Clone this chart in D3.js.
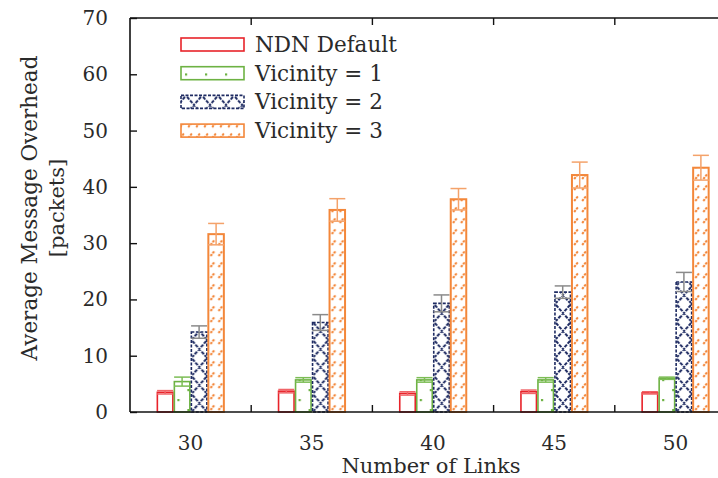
<!DOCTYPE html>
<meta charset="utf-8">
<style>
body { margin: 0; background: #fff; }
text { font-family: "DejaVu Serif", "Liberation Serif", serif; fill: #2a2a2a; }
</style>
<svg width="718" height="478"></svg>
<script src="https://d3js.org/d3.v7.min.js"></script>
<script>

var links = ["30", "35", "40", "45", "50"];
var series = ["NDN Default", "Vicinity = 1", "Vicinity = 2", "Vicinity = 3"];
var ndnDefault = [3.5, 3.7, 3.3, 3.6, 3.4];
var ndnDefaultErr = [0.3, 0.3, 0.3, 0.3, 0.2];
var vicinity1 = [5.4, 5.7, 5.7, 5.7, 6.0];
var vicinity1Err = [0.8, 0.4, 0.4, 0.4, 0.2];
var vicinity2 = [14.2, 15.9, 19.3, 21.3, 23.1];
var vicinity2Err = [1.1, 1.4, 1.5, 1.1, 1.7];
var vicinity3 = [31.6, 35.9, 37.8, 42.1, 43.4];
var vicinity3Err = [1.9, 2.0, 1.9, 2.3, 2.2];
var yTicks = [0, 10, 20, 30, 40, 50, 60, 70];

var values = [ndnDefault, vicinity1, vicinity2, vicinity3];
var errors = [ndnDefaultErr, vicinity1Err, vicinity2Err, vicinity3Err];

var colors = ["#e8232a", "#6db243", "#1e2b62", "#f3873a"];
var errColors = ["#f06468", "#7cbd55", "#8a8a8a", "#f4a26a"];

var svg = d3.select("svg");
var mLeft = 130, mTop = 18, mBottom = 412;

var x = d3.scaleBand().domain(links).range([mLeft, mLeft + 5 * 121.2]);
var xs = d3.scaleBand().domain(d3.range(4)).range([-34, 34]);
var y = d3.scaleLinear().domain([0, 70]).range([mBottom, mTop]);

var defs = svg.append("defs");
var nPat = 0;

// builds a hatch pattern anchored at (px, py) so every bar starts the same way
function makePattern(i, px, py) {
  if (i == 0) return "#fff";
  var id = "pat" + (nPat++);
  var p = defs.append("pattern").attr("id", id).attr("patternUnits", "userSpaceOnUse")
      .attr("x", px).attr("y", py);
  if (i == 1) {
    p.attr("width", 20).attr("height", 20);
    p.append("rect").attr("width", 20).attr("height", 20).attr("fill", "#fff");
    p.append("rect").attr("x", 3).attr("y", 7).attr("width", 2.2).attr("height", 2.2).attr("fill", colors[1]);
    p.append("rect").attr("x", 13).attr("y", 17).attr("width", 2.2).attr("height", 2.2).attr("fill", colors[1]);
  } else if (i == 2) {
    p.attr("width", 16).attr("height", 18);
    p.append("rect").attr("width", 16).attr("height", 18).attr("fill", "#fff");
    p.append("path").attr("d", "M1,1L15,17M15,1L1,17")
        .attr("stroke", colors[2]).attr("stroke-width", 2).attr("stroke-dasharray", "3.5,1.2").attr("fill", "none");
  } else {
    p.attr("width", 8).attr("height", 11);
    p.append("rect").attr("width", 8).attr("height", 11).attr("fill", "#fff");
    p.append("path").attr("d", "M2.2,9L6,4.3")
        .attr("stroke", colors[3]).attr("stroke-width", 2).attr("stroke-dasharray", "2.4,1").attr("fill", "none");
  }
  return "url(#" + id + ")";
}

// bars
series.forEach(function(s, i) {
  var g = svg.append("g");
  g.selectAll("rect")
    .data(links)
    .enter().append("rect")
      .attr("x", function(d) { return x(d) + x.bandwidth() / 2 + xs(i) + 0.75; })
      .attr("y", function(d, j) { return y(values[i][j]); })
      .attr("width", xs.bandwidth() - 1.5)
      .attr("height", function(d, j) { return mBottom - y(values[i][j]); })
      .attr("fill", function(d, j) { return makePattern(i, x(d) + x.bandwidth() / 2 + xs(i) + 0.75, mBottom); })
      .attr("stroke", colors[i])
      .attr("stroke-width", i == 3 ? 2 : 1.6)
      .attr("stroke-dasharray", i == 2 ? "3,1.5" : null);

  var eb = g.selectAll("g.err")
    .data(links)
    .enter().append("g")
      .attr("stroke", errColors[i])
      .attr("stroke-width", 1.5);
  eb.each(function(d, j) {
    var cx = x(d) + x.bandwidth() / 2 + xs(i) + xs.bandwidth() / 2;
    var v = values[i][j], e = errors[i][j];
    var el = d3.select(this);
    el.append("line").attr("x1", cx).attr("x2", cx).attr("y1", y(v - e)).attr("y2", y(v + e));
    el.append("line").attr("x1", cx - 8).attr("x2", cx + 8).attr("y1", y(v + e)).attr("y2", y(v + e));
    el.append("line").attr("x1", cx - 8).attr("x2", cx + 8).attr("y1", y(v - e)).attr("y2", y(v - e));
  });
});

// frame
var frame = svg.append("g").attr("stroke", "#111").attr("stroke-width", 1.6).attr("fill", "none");
frame.append("line").attr("x1", mLeft).attr("x2", 718).attr("y1", mBottom).attr("y2", mBottom);
frame.append("line").attr("x1", mLeft).attr("x2", 718).attr("y1", mTop).attr("y2", mTop);
frame.append("line").attr("x1", mLeft).attr("x2", mLeft).attr("y1", mTop).attr("y2", mBottom);

// y axis
var yAxis = svg.append("g").attr("transform", "translate(" + mLeft + ",0)")
    .call(d3.axisRight(y).tickValues(yTicks).tickSize(7).tickFormat(""));
yAxis.select(".domain").remove();
yAxis.selectAll("line").attr("stroke", "#111").attr("stroke-width", 1.4);
svg.append("g").selectAll("text")
  .data(yTicks)
  .enter().append("text")
    .attr("x", 108).attr("y", function(d) { return y(d) + 7; })
    .attr("text-anchor", "end").attr("font-size", 20)
    .text(function(d) { return d; });

// x ticks at group boundaries
var bounds = links.slice(1).map(function(d) { return x(d); });
var xt = svg.append("g").attr("stroke", "#111").attr("stroke-width", 1.4);
xt.selectAll("line.b").data(bounds).enter().append("line")
    .attr("x1", function(d) { return d; }).attr("x2", function(d) { return d; })
    .attr("y1", mBottom).attr("y2", mBottom - 7);
xt.selectAll("line.t").data(bounds).enter().append("line")
    .attr("x1", function(d) { return d; }).attr("x2", function(d) { return d; })
    .attr("y1", mTop).attr("y2", mTop + 7);
svg.append("g").selectAll("text")
  .data(links)
  .enter().append("text")
    .attr("x", function(d) { return x(d) + x.bandwidth() / 2; })
    .attr("y", 450).attr("text-anchor", "middle").attr("font-size", 20)
    .text(function(d) { return d; });

svg.append("text").attr("x", 431).attr("y", 473).attr("text-anchor", "middle")
    .attr("font-size", 21).text("Number of Links");
svg.append("text").attr("transform", "translate(37,208) rotate(-90)").attr("text-anchor", "middle")
    .attr("font-size", 21.5).text("Average Message Overhead");
svg.append("text").attr("transform", "translate(64,208) rotate(-90)").attr("text-anchor", "middle")
    .attr("font-size", 21).text("[packets]");

// legend
var leg = svg.append("g").selectAll("g")
  .data(series)
  .enter().append("g")
    .attr("transform", function(d, i) { return "translate(181," + (38 + i * 28.7) + ")"; });
leg.append("rect")
    .attr("width", 63).attr("height", 13)
    .attr("fill", function(d, i) { return makePattern(i, 181, 51 + i * 28.7); })
    .attr("stroke", function(d, i) { return colors[i]; })
    .attr("stroke-width", 1.6)
    .attr("stroke-dasharray", function(d, i) { return i == 2 ? "3,1.5" : null; });
leg.append("text").attr("x", 74).attr("y", 14).attr("font-size", 21.5)
    .text(function(d) { return d; });

</script>
